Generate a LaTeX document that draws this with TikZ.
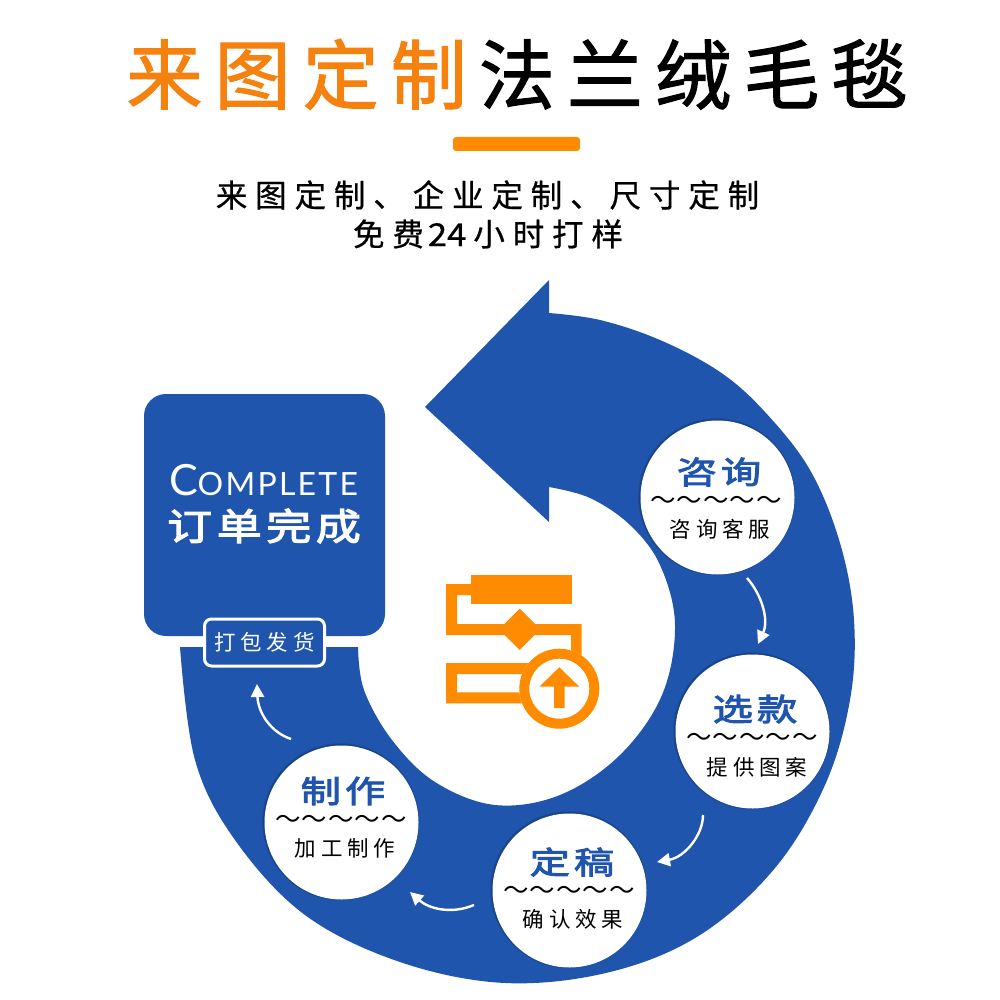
\documentclass[tikz,border=0pt]{standalone}
\usepackage{fontspec}
\usetikzlibrary{arrows.meta}
\newfontfamily\cjktitle[LetterSpace=16,FakeBold=1.5]{Noto Sans CJK SC}
\newfontfamily\cjksub[LetterSpace=25,FakeBold=0.6]{Noto Sans CJK SC}
\newfontfamily\cjksubdigit[FakeBold=0.6,FakeStretch=1.1]{Noto Sans CJK SC}
\newfontfamily\cjkhead[LetterSpace=13,FakeBold=3,FakeStretch=1.3]{Noto Sans CJK SC}
\newfontfamily\cjkdone[LetterSpace=12,FakeBold=3,FakeStretch=1.22]{Noto Sans CJK SC}
\newfontfamily\cjksmall[LetterSpace=22]{Noto Sans CJK SC}
\newfontfamily\cjkwave[LetterSpace=4]{Noto Sans CJK SC}
\newfontfamily\latinlight{Lato}
\definecolor{bandblue}{HTML}{2055AD}
\definecolor{iconorange}{HTML}{FF8C00}
\definecolor{titleorange}{HTML}{F5820F}
\tikzset{
  bubble/.style={circle,fill=none,minimum size=156pt,inner sep=0pt},
  bubblehead/.style={text=bandblue,font=\cjkhead\fontsize{31}{31}\selectfont},
  bubblewave/.style={font=\cjkwave\fontsize{25.5}{25.5}\selectfont},
  bubbletext/.style={font=\cjksmall\fontsize{21.5}{21.5}\selectfont},
  flow/.style={white,line width=2.4pt,-{Triangle[length=13pt,width=13pt]}},
  iconfill/.style={fill=iconorange,draw=none},
}
\newcommand{\bubbleshade}[2]{%
  \fill[black,opacity=.10] (#1-.3,#2-.3) circle (78.6pt);
  \fill[black,opacity=.12] (#1,#2) circle (78pt);
  \fill[white] (#1+.5,#2+.5) circle (77pt);
}
\begin{document}
\begin{tikzpicture}[x=1pt,y=-1pt]
\useasboundingbox (0,0) rectangle (1000,1000);
\fill[white] (0,0) rectangle (1000,1000);

% title
\node[inner sep=0pt,anchor=center] (title) at (517,75)
  {\cjktitle\fontsize{76}{76}\selectfont\textcolor{titleorange}{来图定制}\kern12pt\textcolor{black}{法兰绒毛毯}};
\fill[iconorange,rounded corners=3pt] (453,137) rectangle (580,151);
\node[inner sep=0pt] (sub1) at (487.5,195) {\cjksub\fontsize{31.5}{31.5}\selectfont 来图定制、企业定制、尺寸定制};
\node[inner sep=0pt] (sub2) at (488,234) {\cjksub\fontsize{31.5}{31.5}\selectfont 免费\kern4pt{\cjksubdigit 24}\kern7pt 小时打样};

% big circular arrow
\fill[bandblue] (425,407) -- (549,280) -- (549,313)
  -- plot[smooth,tension=.6] coordinates {(549,313) (600,320) (660,340) (720,372) (765,412) (810,470) (840,543) (854,620) (850,700) (825,785) (775,868) (700,935) (610,972) (505,983) (400,962) (305,915) (235,840) (195,760) (180,647)}
  -- (358,647)
  -- plot[smooth,tension=.6] coordinates {(358,647) (364,690) (392,740) (435,782) (495,805) (560,795) (620,755) (662,695) (675,625) (660,565) (630,525) (590,498) (549,487)}
  -- (549,522) -- cycle;

% complete box
\fill[bandblue,rounded corners=22pt] (144,394) rectangle (385,636);
\node[inner sep=0pt,text=white] (done) at (263.5,480) {\latinlight{\fontsize{43}{43}\selectfont C}\addfontfeature{LetterSpace=7}{\fontsize{32}{32}\selectfont OMPLETE}};
\node[inner sep=0pt,text=white] (doneCN) at (264,526) {\cjkdone\fontsize{37}{37}\selectfont 订单完成};
\node[draw=white,fill=bandblue,line width=3pt,rounded corners=7pt,minimum width=120pt,minimum height=47pt,inner sep=0pt,text=white,font=\cjksmall\fontsize{21.5}{21.5}\selectfont] (pack) at (264.5,642.5) {打包发货};

% bubbles
\bubbleshade{717}{497}
\bubbleshade{752}{731}
\bubbleshade{569}{890}
\bubbleshade{341}{822}
\node[bubble] (b1) at (717,497) {};
\node[bubble] (b2) at (752,731) {};
\node[bubble] (b3) at (569,890) {};
\node[bubble] (b4) at (341,822) {};

\node[bubblehead] (h1) at (719,472) {咨询};
\node[bubblewave] (w1) at (716,503) {～～～～～};
\node[bubbletext] (t1) at (720,529) {咨询客服};
\node[bubblehead] (h2) at (755,709) {选款};
\node[bubblewave] (w2) at (752,740) {～～～～～};
\node[bubbletext] (t2) at (757,767) {提供图案};
\node[bubblehead] (h3) at (572,862) {定稿};
\node[bubblewave] (w3) at (569,893) {～～～～～};
\node[bubbletext] (t3) at (573,919) {确认效果};
\node[bubblehead] (h4) at (343,791) {制作};
\node[bubblewave] (w4) at (341,822) {～～～～～};
\node[bubbletext] (t4) at (345,848) {加工制作};

% flow arrows
\coordinate (a1s) at (747,578); \coordinate (a1e) at (758,644);
\coordinate (a2s) at (703,815); \coordinate (a2e) at (657,862);
\coordinate (a3s) at (474,905); \coordinate (a3e) at (410,892);
\coordinate (a4s) at (291,739); \coordinate (a4e) at (257,684);
\draw[flow] (a1s) .. controls (762,595) and (769,620) .. (a1e);
\draw[flow] (a2s) .. controls (703,835) and (685,857) .. (a2e);
\draw[flow] (a3s) .. controls (450,915) and (428,908) .. (a3e);
\draw[flow] (a4s) .. controls (270,732) and (258,712) .. (a4e);

% icon
\fill[iconfill] (471.3,575) rectangle (571.7,604.3);
\fill[iconfill] (471.3,584) -- (446,584) -- (446,635) -- (571,635) -- (571,655) -- (581.7,655) -- (581.7,624) -- (457,624) -- (457,595) -- (471.3,595) -- cycle;
\fill[iconfill] (519.7,608.6) -- (540.4,629.3) -- (519.7,650) -- (499,629.3) -- cycle;
\fill[iconfill,even odd rule] (446,663) rectangle (530,703.3) (457,674) rectangle (530,692.3);
\fill[white] (559.3,688.7) circle (40pt);
\fill[iconorange,even odd rule] (559.3,688.7) circle (40pt) (559.3,688.7) circle (30pt);
\fill[iconfill] (559.3,667.3) -- (579.3,686.7) -- (564.7,686.7) -- (564.7,708) -- (554,708) -- (554,686.7) -- (539.3,686.7) -- cycle;
\end{tikzpicture}
\end{document}
